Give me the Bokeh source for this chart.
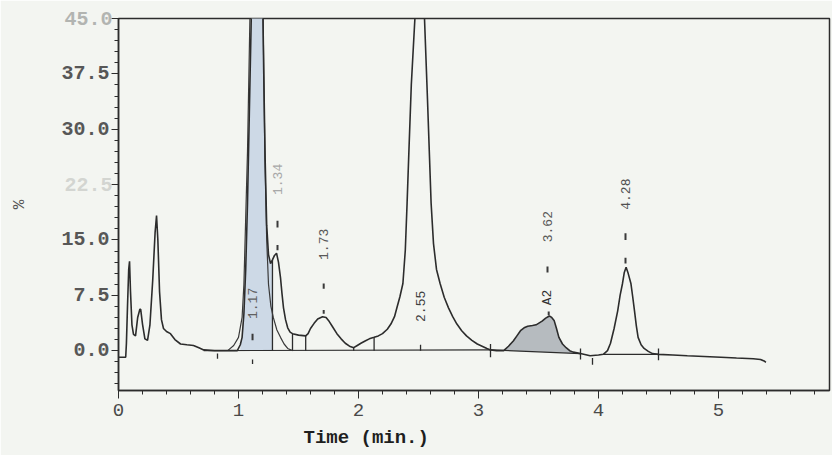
from bokeh.plotting import figure
from bokeh.models import FixedTicker, ColumnDataSource, Title, LinearAxis
from bokeh.embed import file_html
from bokeh.resources import INLINE
from bokeh.core.properties import value
import math

# ---------------- data ----------------
time_min = [
    0.000, 0.060, 0.066, 0.075, 0.085, 0.092, 0.100, 0.112, 0.125, 0.142,
    0.160, 0.178, 0.185, 0.200, 0.220, 0.242, 0.262, 0.285, 0.305, 0.317,
    0.328, 0.342, 0.358, 0.375, 0.400, 0.433, 0.470, 0.517, 0.570, 0.625,
    0.670, 0.710, 0.800, 0.900, 0.990, 1.015, 1.030, 1.045, 1.060, 1.075,
    1.090, 1.105, 1.125, 1.150, 1.170, 1.185, 1.200, 1.210, 1.222, 1.235,
    1.250, 1.267, 1.283, 1.300, 1.317, 1.333, 1.350, 1.362, 1.375, 1.392,
    1.410, 1.430, 1.450, 1.500, 1.560, 1.580, 1.600, 1.630, 1.660, 1.700,
    1.730, 1.750, 1.785, 1.820, 1.855, 1.890, 1.925, 1.960, 1.990, 2.020,
    2.055, 2.090, 2.130, 2.165, 2.200, 2.240, 2.270, 2.300, 2.320, 2.345,
    2.370, 2.390, 2.405, 2.420, 2.440, 2.470, 2.490, 2.510, 2.530, 2.550,
    2.575, 2.590, 2.605, 2.625, 2.650, 2.680, 2.715, 2.750, 2.785, 2.820,
    2.860, 2.900, 2.945, 2.990, 3.030, 3.070, 3.100, 3.150, 3.210, 3.250,
    3.290, 3.320, 3.350, 3.380, 3.410, 3.450, 3.480, 3.500, 3.530, 3.560,
    3.590, 3.610, 3.630, 3.650, 3.670, 3.700, 3.730, 3.760, 3.790, 3.850,
    3.930, 4.000, 4.040, 4.075, 4.100, 4.130, 4.160, 4.180, 4.200, 4.215,
    4.230, 4.245, 4.270, 4.285, 4.300, 4.315, 4.330, 4.355, 4.380, 4.415,
    4.450, 4.500, 4.620, 4.740, 4.880, 5.020, 5.150, 5.290, 5.350, 5.380,
    5.395,
]
signal_pct = [
    -0.9, -0.9, 1.0, 6.0, 11.0, 12.1, 8.0, 3.5, 2.2, 2.0,
    4.5, 5.6, 5.6, 3.6, 1.6, 1.4, 3.5, 9.5, 16.0, 18.3,
    15.0, 8.0, 4.2, 3.0, 2.6, 2.3, 1.5, 0.9, 0.8, 0.7,
    0.4, 0.1, 0.0, 0.0, 0.0, 0.8, 1.8, 5.0, 11.0, 20.0,
    32.0, 44.0, 60.0, 72.0, 75.0, 68.0, 50.0, 38.0, 26.0, 17.0,
    13.0, 11.8, 12.3, 12.9, 13.2, 12.0, 9.9, 7.8, 5.8, 4.2,
    3.1, 2.5, 2.3, 2.1, 2.0, 2.3, 3.0, 3.7, 4.3, 4.6,
    4.5, 4.1, 3.2, 2.3, 1.6, 1.0, 0.6, 0.4, 0.7, 1.0,
    1.3, 1.6, 1.8, 2.0, 2.3, 2.9, 3.6, 4.6, 5.8, 7.3,
    9.1, 13.6, 20.0, 27.0, 36.0, 45.0, 53.0, 56.0, 53.0, 45.0,
    34.0, 27.0, 20.0, 14.5, 11.0, 9.1, 7.2, 5.8, 4.6, 3.6,
    2.7, 2.0, 1.4, 0.9, 0.6, 0.3, 0.1, 0.0, 0.0, 0.6,
    1.3, 2.0, 2.7, 3.1, 3.3, 3.4, 3.5, 3.7, 4.0, 4.4,
    4.7, 4.5, 4.1, 3.0, 1.8, 0.9, 0.4, 0.0, -0.2, -0.4,
    -0.7, -0.6, -0.5, 0.0, 1.0, 3.0, 5.4, 7.5, 9.1, 10.6,
    11.3, 10.6, 9.1, 7.3, 5.4, 3.4, 1.8, 0.8, 0.3, -0.1,
    -0.4, -0.5, -0.6, -0.7, -0.8, -0.9, -1.0, -1.1, -1.2, -1.4,
    -1.6,
]

# outer envelope of the 1.17 peak
env_time = [0.910, 0.960, 1.000, 1.030, 1.045, 1.060, 1.075, 1.095, 1.120, 1.160,
            1.190, 1.205, 1.220, 1.235, 1.250, 1.270, 1.290, 1.320, 1.350, 1.380,
            1.410, 1.450]
env_pct = [0.0, 0.7, 1.8, 4.5, 9.0, 18.0, 27.0, 45.0, 62.0, 74.0,
           62.0, 45.0, 26.0, 15.0, 9.0, 6.0, 4.5, 2.8, 1.8, 0.9,
           0.3, 0.0]

# integration baselines
base_t0 = [0.71, 3.10, 4.04]
base_t1 = [3.10, 3.85, 4.50]
base_v0 = [0.0, 0.1, -0.5]
base_v1 = [0.1, -0.4, -0.5]

# drop lines / baseline tick marks
seg_t = [1.283, 1.45, 1.56, 1.96, 2.13, 3.10, 3.85, 4.50, 2.517, 0.825, 1.117, 3.95]
seg_lo = [0.0, 0.0, 0.0, 0.0, 0.0, -0.9, -1.2, -1.3, 0.0, -1.1, -1.8, -1.9]
seg_hi = [12.3, 2.3, 2.0, 0.4, 1.8, 0.9, 0.3, 0.3, 0.8, -0.4, -1.2, -1.0]

# small peak marker dashes
mark_t = [1.117, 1.325, 1.325, 1.71, 1.71, 3.575, 3.585, 4.225, 4.225]
mark_lo = [1.4, 16.7, 13.6, 8.4, 5.0, 10.6, 4.8, 15.0, 11.8]
mark_hi = [2.3, 17.6, 14.3, 9.1, 5.5, 11.4, 5.3, 15.9, 12.6]

# peak annotations
peak_text = ["1.17", "1.34", "1.73", "2.55", "3.62", "A2", "4.28"]
peak_t = [1.117, 1.325, 1.71, 2.52, 3.575, 3.575, 4.225]
peak_v = [6.4, 23.2, 14.4, 6.0, 16.8, 7.2, 21.2]
peak_color = ["#606060", "#a8a8a8", "#585858", "#404040", "#585858", "#303030", "#505050"]

# axes
x_ticks = [0, 1, 2, 3, 4, 5]
x_minor = [0.2, 0.4, 0.6, 0.8, 1.2, 1.4, 1.6, 1.8, 2.2, 2.4, 2.6, 2.8,
           3.2, 3.4, 3.6, 3.8, 4.2, 4.4, 4.6, 4.8, 5.2, 5.4, 5.6, 5.8]
y_ticks = [0.0, 7.5, 15.0, 22.5, 30.0, 37.5, 45.0]
y_tick_text = ["0.0", "7.5", "15.0", "22.5", "30.0", "37.5", "45.0"]
# print shade of each tick label: 0 = normal, 1 = faint, 2 = very faint
y_tick_shade = [0, 0, 0, 2, 0, 0, 1]
y_minor = [-4.5, -3.0, -1.5, 1.5, 3.0, 4.5, 6.0, 9.0, 10.5, 12.0, 13.5,
           16.5, 18.0, 19.5, 21.0, 24.0, 25.5, 27.0, 28.5, 31.5, 33.0,
           34.5, 36.0, 39.0, 40.5, 42.0, 43.5]
shade_colors = ["#575757", "#b2b4b1", "#d3d5d1"]

BG = "#f3f5f1"
INK = "#2c2c2c"
MONO = "Liberation Mono"

W, H = 832, 455
LEFT, TOP, RIGHT, BOTTOM = 118, 18, 3, 65
X_END = 5.925
Y_LO, Y_HI = -5.4, 45.0

p = figure(width=W, height=H, x_range=(0, X_END), y_range=(Y_LO, Y_HI),
           output_backend="svg", toolbar_location=None,
           min_border_left=LEFT, min_border_right=RIGHT, min_border_top=TOP,
           min_border_bottom=BOTTOM,
           background_fill_color=BG, border_fill_color=BG)
p.grid.visible = False
p.outline_line_color = INK
p.outline_line_width = 1.5

# shaded areas
f1 = [(t, v) for t, v in zip(time_min, signal_pct) if 1.0 <= t <= 1.283]
p.varea(x=[a for a, b in f1], y1=[0.0] * len(f1), y2=[b for a, b in f1],
        fill_color="#c9d6e4", fill_alpha=0.9)
f2 = [(t, v) for t, v in zip(time_min, signal_pct) if 3.10 <= t <= 3.85]
b0, b1 = base_v0[1], base_v1[1]
t0, t1 = base_t0[1], base_t1[1]
p.varea(x=[a for a, b in f2],
        y1=[b0 + (b1 - b0) * (a - t0) / (t1 - t0) for a, b in f2],
        y2=[b for a, b in f2], fill_color="#b2b7bc", fill_alpha=0.95)

# baselines and drop lines
p.segment(x0=base_t0, y0=base_v0, x1=base_t1, y1=base_v1, line_color=INK, line_width=1.2)
p.segment(x0=seg_t, y0=seg_lo, x1=seg_t, y1=seg_hi, line_color=INK, line_width=1.3)
p.segment(x0=mark_t, y0=mark_lo, x1=mark_t, y1=mark_hi, line_color="#3a3a3a", line_width=2)

# traces
p.line(env_time, env_pct, line_color="#3a3a3a", line_width=1.2)
p.line(time_min, signal_pct, line_color=INK, line_width=1.6)

# peak labels
src = ColumnDataSource(dict(x=peak_t, y=peak_v, text=peak_text, color=peak_color))
p.text(x="x", y="y", text="text", source=src, angle=math.pi / 2,
       text_align="center", text_baseline="middle", text_color="color",
       text_font=value(MONO), text_font_size="13px")

# x axis
xa = p.xaxis[0]
xa.ticker = FixedTicker(ticks=x_ticks, minor_ticks=x_minor)
xa.axis_line_color = INK
xa.axis_line_width = 1.5
xa.major_tick_line_color = INK
xa.minor_tick_line_color = INK
xa.major_tick_in = 0
xa.major_tick_out = 8
xa.minor_tick_in = 0
xa.minor_tick_out = 4
xa.major_label_standoff = 5
xa.major_label_text_font = MONO
xa.major_label_text_font_size = "19px"
xa.major_label_text_color = "#4a4a4a"

# y axis (normal labels)
ya = p.yaxis[0]
ya.ticker = FixedTicker(ticks=y_ticks, minor_ticks=y_minor)
ya.axis_line_color = INK
ya.axis_line_width = 1.5
ya.major_tick_line_color = INK
ya.minor_tick_line_color = INK
ya.major_tick_in = 0
ya.major_tick_out = 7
ya.minor_tick_in = 0
ya.minor_tick_out = 4
ya.major_label_standoff = 2
ya.major_label_text_font = MONO
ya.major_label_text_font_style = "bold"
ya.major_label_text_font_size = "20px"
ya.major_label_text_color = shade_colors[0]
ya.major_label_overrides = {v: (t if s == 0 else " ")
                            for v, t, s in zip(y_ticks, y_tick_text, y_tick_shade)}

# extra label-only y axes for the faint tick labels, pulled back over the first axis
for shade, standoff, has_title in [(2, -54, False), (1, -54, True)]:
    fy = [v for v, s in zip(y_ticks, y_tick_shade) if s == shade]
    ax = LinearAxis(ticker=FixedTicker(ticks=fy, minor_ticks=[]),
                    major_label_overrides={v: t for v, t, s in zip(y_ticks, y_tick_text, y_tick_shade) if s == shade},
                    axis_line_alpha=0, major_tick_line_alpha=0, minor_tick_line_alpha=0,
                    major_tick_in=0, major_tick_out=0, minor_tick_in=0, minor_tick_out=0,
                    major_label_standoff=standoff,
                    major_label_text_font=MONO, major_label_text_font_style="bold",
                    major_label_text_font_size="20px",
                    major_label_text_color=shade_colors[shade])
    if has_title:
        ax.axis_label = "%"
        ax.axis_label_text_font = MONO
        ax.axis_label_text_font_style = "normal"
        ax.axis_label_text_font_size = "16px"
        ax.axis_label_text_color = "#555555"
        ax.axis_label_standoff = 32
    p.add_layout(ax, "left")

# x axis title, placed left of centre as in the print-out
p.add_layout(Title(text="Time (min.)", align="left", offset=303 - LEFT,
                   text_font=MONO, text_font_style="bold", text_font_size="19px",
                   text_color="#1e1e1e", standoff=12), "below")

open("out.html", "w").write(file_html(p, INLINE))
